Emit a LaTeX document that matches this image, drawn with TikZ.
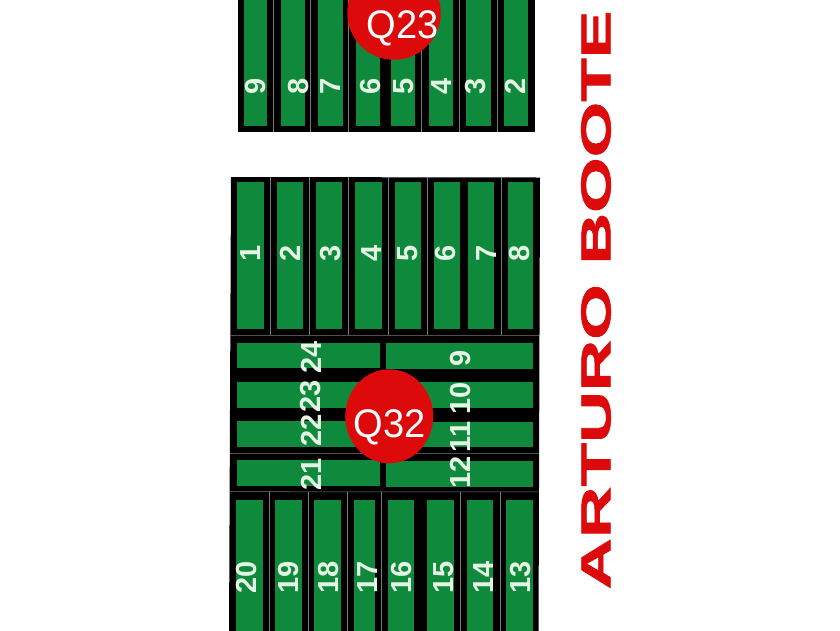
\documentclass[tikz,border=0pt]{standalone}
\usepackage{fontspec}
\setmainfont{Liberation Sans}
\newfontfamily\titlefont[BoldFont={Liberation Sans Bold},BoldFeatures={FakeBold=1.2}]{Liberation Sans}
\definecolor{pgreen}{HTML}{0F8A3C}
\definecolor{pred}{HTML}{DC0A0A}
\definecolor{pgrey}{HTML}{7A7A7A}
\definecolor{pnum}{HTML}{E4F5E4}
\begin{document}
\begin{tikzpicture}[x=1pt,y=-1pt,
  panel/.style={fill=black,draw=none},
  bar/.style={fill=pgreen,draw=none},
  rule/.style={draw=pgrey,line width=0.5pt},
  num/.style={text=pnum,font=\bfseries\fontsize{29}{29}\selectfont,rotate=90,inner sep=0pt},
  badge/.style={text=white,font=\fontsize{38}{38}\selectfont,inner sep=0pt,yscale=1.05}]
\useasboundingbox (0,0) rectangle (840,630);
\fill[white] (0,0) rectangle (840,630);
\begin{scope}
\clip (0,0) rectangle (840,630);
% top panel
\fill[panel] (237.5,-5) rectangle (535,132);
\foreach \a/\b in {243.7/267.3,280.7/304.7,318.3/342.7,355.7/380,391.3/415,429/453.3,466/490.7,503.7/528.3}
  \fill[bar] (\a,-5) rectangle (\b,126);
\foreach \a in {273.3,310.7,348.3,421.7,459.3,497.3}
  \draw[rule] (\a,-5) -- (\a,132);
% main panel
\fill[panel] (231,177) -- (540,177.5) -- (538.5,640) -- (229,640) -- cycle;
\foreach \a/\b in {236.7/264,276.7/302.7,316/342.3,355/381.7,394.7/421,434/460,468.3/494,507.7/533.3}
  \fill[bar] (\a,181.7) rectangle (\b,329.3);
\foreach \a in {270,309.3,348.3,388.3,427.3,501}
  \draw[rule] (\a,177) -- (\a,335);
\draw[rule] (230.5,335.3) -- (539.5,335.5);
\foreach \t/\b in {342.7/368.3,381.7/407.7,421/446.7,460/486}{
  \fill[bar] (236.7,\t) rectangle (380,\b);
  \fill[bar] (386,\t+0.7) rectangle (533.3,\b+0.7);
}
\draw[rule] (230,453.3) -- (539,453.6);
\draw[rule] (229.5,491.7) -- (539,491.9);
\foreach \a/\b in {236/262.7,275/301.7,314.3/341,354/375.3,387.7/414.3,427.3/454,466.7/493.3,506/532.7}
  \fill[bar] (\a,499.5) rectangle (\b,640);
\foreach \a in {269.3,308.3,347.3,381.7,460.7,500}
  \draw[rule] (\a,492) -- (\a,640);
% circles
\node[circle,fill=pred,minimum size=93.5pt,inner sep=0pt] (qa) at (394,13) {};
\node[badge,anchor=center] (qatext) at (402.5,28) {Q23};
\fill[pred] (389.2,416.3) ellipse [x radius=44,y radius=47];
\coordinate (qb) at (389.2,416.3);
\node[badge] (qbtext) at (389.5,427) {Q32};
% numbers
\foreach \x/\t in {255.5/9,298.5/8,330.5/7,370.5/6,403.5/5,442/4,475.5/3,515.5/2}
  \node[num] (t\t) at (\x,86) {\t};
\foreach \x/\t in {250.5/1,290.5/2,330.5/3,371.5/4,407.5/5,445.5/6,486.5/7,519.5/8}
  \node[num] (m\t) at (\x,253) {\t};
\foreach \y/\t in {357.5/24,396/23,430.5/22,474/21}
  \node[num] (m\t) at (311,\y) {\t};
\foreach \y/\t in {358/9,398/10,436.7/11,472.5/12}
  \node[num] (r\t) at (460.5,\y) {\t};
\foreach \x/\t in {247/20,288.5/19,328.5/18,368/17,402/16,443.5/15,483.5/14,520.5/13}
  \node[num] (m\t) at (\x,577) {\t};
% title
\node[text=pred,rotate=90,inner sep=0pt,font=\titlefont\bfseries\fontsize{42}{42}\selectfont,xscale=1.70] (title) at (596,300) {ARTURO BOOTE};
\end{scope}
\end{tikzpicture}
\end{document}
